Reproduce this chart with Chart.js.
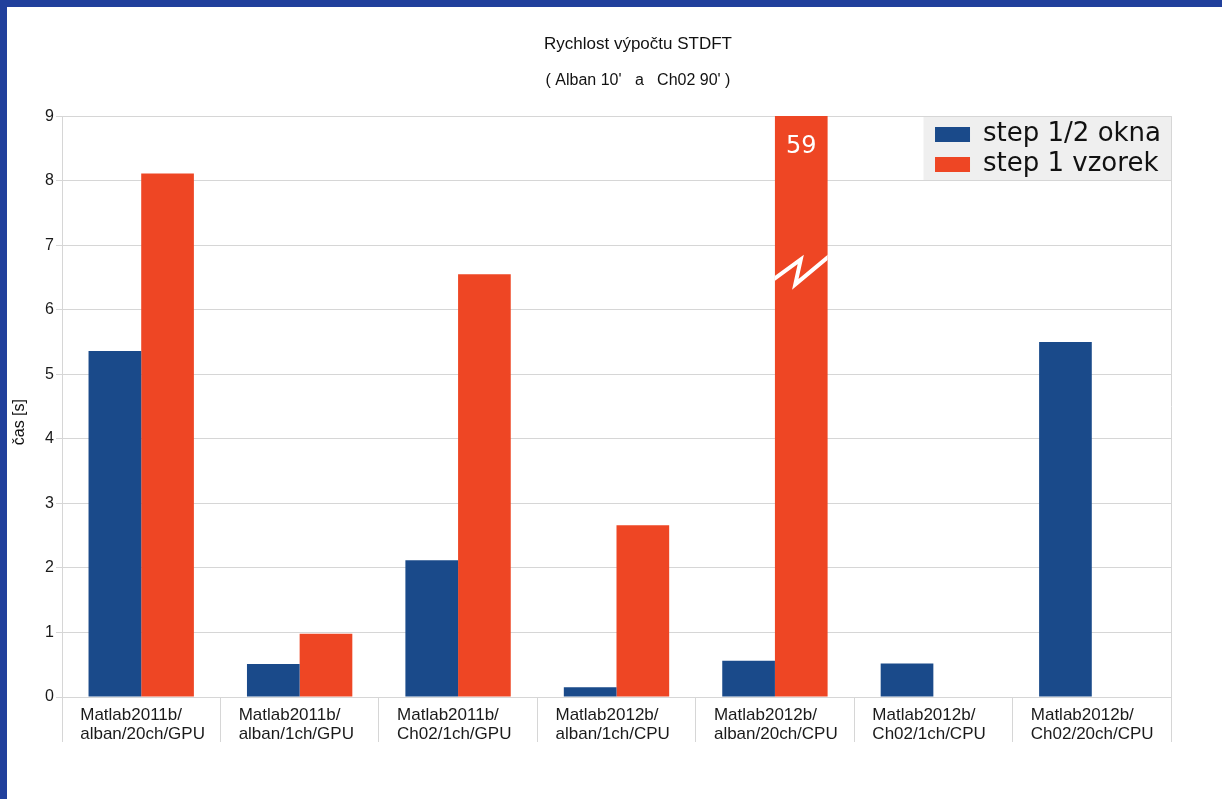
<!DOCTYPE html>
<html>
<head>
<meta charset="utf-8">
<script src="https://cdn.jsdelivr.net/npm/chart.js@4/dist/chart.umd.min.js"></script>
<style>
  html, body { margin: 0; padding: 0; width: 1222px; height: 799px; overflow: hidden; background: #21409c; }
  #card { position: absolute; left: 7px; top: 7px; width: 1215px; height: 792px; background: #ffffff; overflow: hidden; }
  #c { position: absolute; left: 0; top: 0; }
</style>
</head>
<body>
<div id="card"><canvas id="c" width="1262" height="792"></canvas></div>
<script>
// Test configurations (two-line category labels)
const categories = [
  ['Matlab2011b/', 'alban/20ch/GPU'],
  ['Matlab2011b/', 'alban/1ch/GPU'],
  ['Matlab2011b/', 'Ch02/1ch/GPU'],
  ['Matlab2012b/', 'alban/1ch/CPU'],
  ['Matlab2012b/', 'alban/20ch/CPU'],
  ['Matlab2012b/', 'Ch02/1ch/CPU'],
  ['Matlab2012b/', 'Ch02/20ch/CPU']
];

// STDFT computation time in seconds
const seriesNames = ['step 1/2 okna', 'step 1 vzorek'];
const halfWindowStep = [5.36, 0.51, 2.12, 0.15, 0.56, 0.52, 5.50];
const singleSampleStep = [8.11, 0.98, 6.55, 2.66, 59, null, null];

// Value axis
const yTickValues = [0, 1, 2, 3, 4, 5, 6, 7, 8, 9];
const breakValue = 6.6;   // where the broken bar is marked

const GRID = '#d6d6d6';
const BLUE = '#1a4a8a';
const RED = '#ee4624';

// Legend sits in the top-right corner of the plot on a grey panel
const legendPanel = {
  id: 'legendPanel',
  afterLayout(chart) {
    const lg = chart.legend;
    const area = chart.chartArea;
    const w = lg.width;
    lg.right = area.right;
    lg.left = area.right - w;
    lg.top = area.top + 1.5;
    lg.bottom = area.bottom;
  },
  beforeDraw(chart) {
    const lg = chart.legend;
    const area = chart.chartArea;
    const ctx = chart.ctx;
    const left = lg.left - 7.5;
    ctx.save();
    ctx.fillStyle = '#efefef';
    ctx.fillRect(left, area.top, area.right - left, 64);
    ctx.restore();
  }
};

// Bars that run past the top of the axis get a break mark and their value
const axisBreak = {
  id: 'axisBreak',
  afterDatasetsDraw(chart) {
    const y = chart.scales.y;
    const area = chart.chartArea;
    const ctx = chart.ctx;
    chart.data.datasets.forEach((ds, di) => {
      const meta = chart.getDatasetMeta(di);
      meta.data.forEach((bar, i) => {
        const v = ds.data[i];
        if (v == null || v <= y.max) return;
        const half = bar.width / 2;
        const l = bar.x - half;
        const yb = y.getPixelForValue(breakValue);
        ctx.save();
        ctx.beginPath();
        ctx.rect(l, area.top, bar.width, area.height);
        ctx.clip();
        ctx.strokeStyle = '#ffffff';
        ctx.lineWidth = 4;
        ctx.lineJoin = 'miter';
        ctx.beginPath();
        ctx.moveTo(bar.x - half - 3, yb + 9.6);
        ctx.lineTo(bar.x - 0.5, yb - 11.6);
        ctx.lineTo(bar.x - 6, yb + 13.4);
        ctx.lineTo(bar.x + half + 3, yb - 16);
        ctx.stroke();
        ctx.fillStyle = '#ffffff';
        ctx.font = '24px "DejaVu Sans"';
        ctx.textAlign = 'center';
        ctx.textBaseline = 'middle';
        ctx.fillText(String(v), bar.x, area.top + 31);
        ctx.restore();
      });
    });
  }
};

new Chart(document.getElementById('c'), {
  type: 'bar',
  data: {
    labels: categories,
    datasets: [
      { label: seriesNames[0], data: halfWindowStep, backgroundColor: BLUE, borderWidth: 0 },
      { label: seriesNames[1], data: singleSampleStep, backgroundColor: RED, borderWidth: 0 }
    ]
  },
  options: {
    responsive: false,
    animation: false,
    events: [],
    layout: { padding: { left: 0, right: 0, top: 0, bottom: 0 } },
    datasets: { bar: { categoryPercentage: 0.665, barPercentage: 1.0 } },
    plugins: {
      title: {
        display: true,
        text: 'Rychlost výpočtu STDFT',
        color: '#111',
        font: { family: '"Liberation Sans", Arial, sans-serif', size: 17, weight: 'normal' },
        padding: { top: 27, bottom: 0 }
      },
      subtitle: {
        display: true,
        text: "( Alban 10'   a   Ch02 90' )",
        color: '#111',
        font: { family: '"Liberation Sans", Arial, sans-serif', size: 16, weight: 'normal' },
        padding: { top: 17, bottom: 25.5 }
      },
      legend: {
        position: 'chartArea',
        align: 'start',
        labels: {
          boxWidth: 35,
          boxHeight: 15,
          padding: 4,
          color: '#111',
          font: { family: '"DejaVu Sans", sans-serif', size: 26 }
        }
      },
      tooltip: { enabled: false }
    },
    scales: {
      x: {
        offset: true,
        border: { display: false },
        grid: {
          offset: true,
          drawOnChartArea: true,
          color: (c) => (c.type === 'tick' ? 'rgba(0,0,0,0)' : GRID),
          tickColor: GRID,
          tickLength: 45,
          lineWidth: 1
        },
        ticks: {
          autoSkip: false,
          maxRotation: 0,
          minRotation: 0,
          align: 'start',
          labelOffset: -61,
          padding: -36,
          color: '#1a1a1a',
          font: { family: '"Liberation Sans", Arial, sans-serif', size: 17, lineHeight: 1.1 }
        },
        afterFit: (s) => { s.height = 102; }
      },
      y: {
        min: yTickValues[0],
        max: yTickValues[yTickValues.length - 1],
        afterBuildTicks: (s) => { s.ticks = yTickValues.map((v) => ({ value: v })); },
        border: { display: true, color: GRID, width: 1 },
        grid: { color: GRID, tickColor: GRID, tickLength: 6, lineWidth: 1 },
        ticks: {
          padding: 2,
          color: '#1a1a1a',
          font: { family: '"Liberation Sans", Arial, sans-serif', size: 16 }
        },
        title: {
          display: true,
          text: 'čas [s]       ',
          color: '#111',
          font: { family: '"Liberation Sans", Arial, sans-serif', size: 16 },
          padding: { top: 3, bottom: 0 }
        },
        afterFit: (s) => { s.width = 55; }
      },
      yRight: {
        position: 'right',
        display: true,
        grid: { display: false },
        border: { display: false },
        ticks: { display: false },
        afterFit: (s) => { s.width = 98; }
      }
    }
  },
  plugins: [legendPanel, axisBreak]
});
</script>
</body>
</html>
